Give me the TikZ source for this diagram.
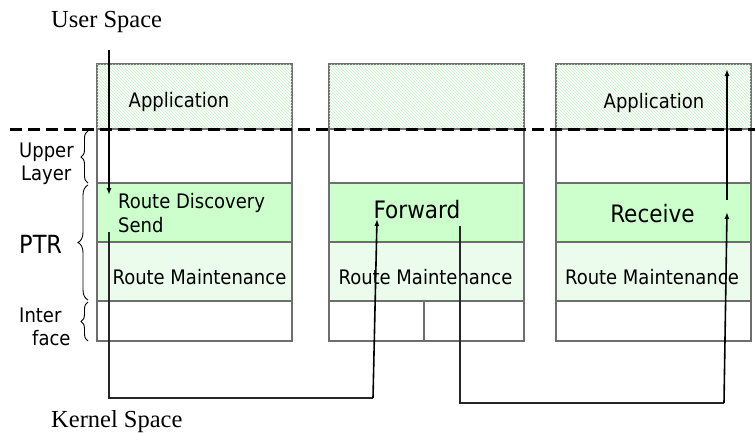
\documentclass[tikz,border=0pt]{standalone}
\usepackage{fontspec}
\setmainfont{Liberation Serif}
\newfontfamily\boxfont{DejaVu Sans Condensed}
\usetikzlibrary{patterns,decorations.pathreplacing,arrows.meta}

\definecolor{discgreen}{RGB}{204,255,204}
\definecolor{maintgreen}{RGB}{236,252,236}
\definecolor{hatchgreen}{RGB}{196,238,196}
\definecolor{framegray}{RGB}{110,110,110}

\begin{document}
\begin{tikzpicture}[x=1pt,y=-1pt,
  layer/.style={draw=framegray, line width=1.2pt, anchor=north west,
    minimum width=195pt, inner sep=0pt, outer sep=0pt},
  approw/.style={layer, minimum height=65pt, fill=white,
    postaction={pattern=north west lines, pattern color=hatchgreen}},
  upperrow/.style={layer, minimum height=54pt, fill=white},
  discrow/.style={layer, minimum height=59pt, fill=discgreen},
  maintrow/.style={layer, minimum height=59pt, fill=maintgreen},
  ifacerow/.style={layer, minimum height=40pt, fill=white},
  boxtext/.style={font=\boxfont\fontsize{20}{24}\selectfont, inner sep=0pt},
  bigtext/.style={font=\boxfont\fontsize{24}{28}\selectfont, inner sep=0pt},
  spacetext/.style={font=\fontsize{24.5}{28}\selectfont, inner sep=0pt, anchor=base west},
  sidebrace/.style={draw, line width=0.9pt, decorate,
    decoration={brace, amplitude=#1}},
  flow/.style={line width=1.6pt, -{Latex[length=7pt,width=5pt]}},
  route/.style={line width=1.1pt, draw=black!85},
]
\useasboundingbox (0,0) rectangle (755,432);

% three protocol stacks
\foreach \n/\x in {1/97, 2/329, 3/556} {
  \node[approw]   (app\n)   at (\x,64)  {};
  \node[upperrow] (upper\n) at (\x,129) {};
  \node[discrow]  (disc\n)  at (\x,183) {};
  \node[maintrow] (maint\n) at (\x,242) {};
  \node[ifacerow] (iface\n) at (\x,301) {};
}
% split interface of the forwarding node
\coordinate (splitT) at (424,301);
\coordinate (splitB) at (424,341);
\draw[framegray, line width=1.2pt] (splitT) -- (splitB);

% texts inside the stacks
\node[boxtext, anchor=base] (apptext1) at (179,107) {Application};
\node[boxtext, anchor=base] (apptext3) at (654,108) {Application};
\node[boxtext, anchor=base west] (rdtext) at (118,208) {Route Discovery};
\node[boxtext, anchor=base west] (sendtext) at (118,232) {Send};
\node[bigtext, anchor=base] (fwdtext) at (417,218) {Forward};
\node[bigtext, anchor=base] (rcvtext) at (652.5,222) {Receive};
\node[boxtext, anchor=base] (mtext1) at (199.5,284) {Route Maintenance};
\node[boxtext, anchor=base] (mtext2) at (425.5,284) {Route Maintenance};
\node[boxtext, anchor=base] (mtext3) at (652,284) {Route Maintenance};

% layer labels with braces
\node[boxtext, anchor=base west] (lupper) at (19,157) {Upper};
\node[boxtext, anchor=base west] (llayer) at (21,180) {Layer};
\node[font=\boxfont\fontsize{25}{29}\selectfont, inner sep=0pt, anchor=base west] (lptr) at (19,253) {PTR};
\node[boxtext, anchor=base west] (linter) at (19,322) {Inter};
\node[boxtext, anchor=base west] (lface) at (32,345) {face};

\coordinate (bu1) at (88,183); \coordinate (bu2) at (88,131);
\coordinate (bp1) at (88,300); \coordinate (bp2) at (88,185);
\coordinate (bi1) at (88,341); \coordinate (bi2) at (88,302);
\draw[sidebrace=7pt] (bu1) -- (bu2);
\draw[sidebrace=10pt] (bp1) -- (bp2);
\draw[sidebrace=7pt] (bi1) -- (bi2);

% user / kernel boundary
\coordinate (dashL) at (10,129);
\coordinate (dashR) at (755,129);
\draw[line width=3pt, dash pattern=on 12pt off 6pt] (dashL) -- (dashR);

\node[spacetext] (userspace) at (51,27) {User Space};
\node[spacetext] (kernelspace) at (51,427) {Kernel Space};

% packet path
\coordinate (usrtop) at (109,50);
\coordinate (usrend) at (109,195);
\draw[flow] (usrtop) -- (usrend);

\coordinate (sendout) at (109,232);
\coordinate (k1) at (109,398);
\coordinate (k2) at (373,398);
\coordinate (fwdin) at (377,219);
\draw[route] (sendout) -- (k1) -- (k2);
\draw[flow] (k2) -- (fwdin);

\coordinate (fwdout) at (460,226);
\coordinate (k3) at (460,403);
\coordinate (k4) at (724,403);
\coordinate (rcvin) at (727,212);
\draw[route] (fwdout) -- (k3) -- (k4);
\draw[flow] (k4) -- (rcvin);

\coordinate (rcvout) at (727,200);
\coordinate (appin) at (727,69);
\draw[flow] (rcvout) -- (appin);
\end{tikzpicture}
\end{document}
